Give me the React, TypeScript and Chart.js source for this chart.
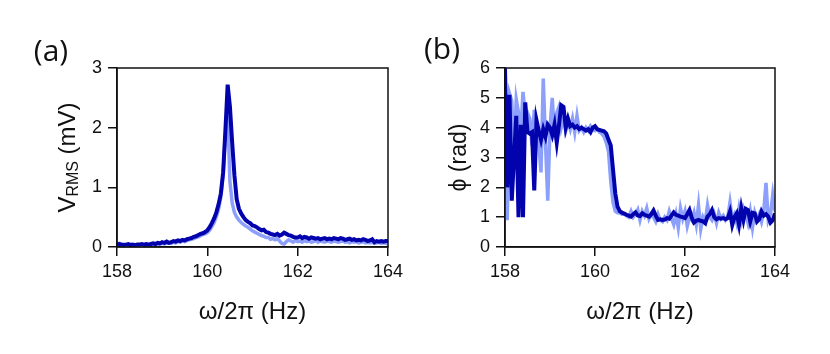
import React, { useEffect, useRef } from "react";
import { Chart, registerables } from "chart.js";

Chart.register(...registerables);

// Frequency grid (Hz)
const FREQ = [
  158.00, 158.05, 158.10, 158.15, 158.20, 158.25, 158.30, 158.35, 158.40, 158.45,
  158.50, 158.55, 158.60, 158.65, 158.70, 158.75, 158.80, 158.85, 158.90, 158.95,
  159.00, 159.05, 159.10, 159.15, 159.20, 159.25, 159.30, 159.35, 159.40, 159.45,
  159.50, 159.55, 159.60, 159.65, 159.70, 159.75, 159.80, 159.85, 159.90, 159.95,
  160.00, 160.05, 160.10, 160.15, 160.20, 160.25, 160.30, 160.35, 160.40, 160.45,
  160.50, 160.55, 160.60, 160.65, 160.70, 160.75, 160.80, 160.85, 160.90, 160.95,
  161.00, 161.05, 161.10, 161.15, 161.20, 161.25, 161.30, 161.35, 161.40, 161.45,
  161.50, 161.55, 161.60, 161.65, 161.70, 161.75, 161.80, 161.85, 161.90, 161.95,
  162.00, 162.05, 162.10, 162.15, 162.20, 162.25, 162.30, 162.35, 162.40, 162.45,
  162.50, 162.55, 162.60, 162.65, 162.70, 162.75, 162.80, 162.85, 162.90, 162.95,
  163.00, 163.05, 163.10, 163.15, 163.20, 163.25, 163.30, 163.35, 163.40, 163.45,
  163.50, 163.55, 163.60, 163.65, 163.70, 163.75, 163.80, 163.85, 163.90, 163.95,
  164.00,
];

// Panel (a): V_RMS (mV)
const VRMS_DARK = [
  0.04, 0.05, 0.04, 0.03, 0.04, 0.05, 0.03, 0.04, 0.03, 0.04,
  0.04, 0.05, 0.04, 0.05, 0.04, 0.05, 0.06, 0.05, 0.07, 0.06,
  0.08, 0.07, 0.09, 0.07, 0.08, 0.10, 0.09, 0.11, 0.10, 0.12,
  0.11, 0.13, 0.14, 0.15, 0.17, 0.18, 0.20, 0.22, 0.23, 0.25,
  0.28, 0.33, 0.40, 0.48, 0.58, 0.72, 0.90, 1.25, 1.95, 2.72,
  2.35, 1.75, 1.20, 0.80, 0.64, 0.56, 0.50, 0.45, 0.42, 0.40,
  0.36, 0.35, 0.33, 0.30, 0.28, 0.29, 0.25, 0.24, 0.22, 0.21,
  0.20, 0.22, 0.19, 0.21, 0.24, 0.22, 0.20, 0.19, 0.17, 0.16,
  0.16, 0.18, 0.15, 0.17, 0.16, 0.14, 0.16, 0.15, 0.14, 0.15,
  0.13, 0.14, 0.15, 0.13, 0.14, 0.13, 0.15, 0.14, 0.13, 0.15,
  0.14, 0.12, 0.13, 0.14, 0.12, 0.13, 0.11, 0.12, 0.11, 0.13,
  0.12, 0.10, 0.11, 0.13, 0.08, 0.10, 0.09, 0.10, 0.09, 0.10,
  0.10,
];
const VRMS_LIGHT = [
  0.03, 0.06, 0.04, 0.05, 0.03, 0.04, 0.05, 0.03, 0.04, 0.03,
  0.04, 0.03, 0.04, 0.04, 0.03, 0.05, 0.04, 0.05, 0.04, 0.05,
  0.06, 0.05, 0.06, 0.07, 0.06, 0.08, 0.07, 0.09, 0.08, 0.10,
  0.09, 0.11, 0.12, 0.13, 0.14, 0.16, 0.17, 0.19, 0.21, 0.22,
  0.24, 0.28, 0.34, 0.41, 0.51, 0.64, 0.84, 1.22, 1.92, 2.30,
  1.10, 0.74, 0.58, 0.50, 0.45, 0.41, 0.38, 0.35, 0.33, 0.30,
  0.27, 0.25, 0.23, 0.21, 0.19, 0.18, 0.16, 0.16, 0.13, 0.14,
  0.12, 0.14, 0.10, 0.06, 0.05, 0.09, 0.12, 0.10, 0.08, 0.11,
  0.09, 0.10, 0.08, 0.11, 0.09, 0.10, 0.08, 0.09, 0.11, 0.08,
  0.10, 0.09, 0.08, 0.10, 0.09, 0.08, 0.10, 0.09, 0.08, 0.09,
  0.10, 0.08, 0.09, 0.07, 0.09, 0.08, 0.09, 0.07, 0.08, 0.09,
  0.07, 0.08, 0.07, 0.08, 0.06, 0.07, 0.08, 0.06, 0.07, 0.06,
  0.05,
];

// Panel (b): phase (rad)
const PHI_DARK = [
  6.00, 2.00, 5.10, 1.55, 3.00, 4.40, 1.00, 4.10, 1.00, 4.85,
  3.85, 3.80, 3.85, 1.90, 4.25, 3.90, 3.60, 3.95, 3.70, 4.10,
  4.00, 3.75, 4.10, 3.50, 4.10, 4.75, 4.70, 4.00, 4.30, 4.05,
  4.10, 4.00, 4.05, 3.95, 4.00, 3.95, 3.90, 3.95, 3.85, 4.00,
  4.05, 3.95, 3.92, 3.90, 3.88, 3.80, 3.60, 3.40, 2.60, 1.80,
  1.35, 1.20, 1.15, 1.12, 1.08, 1.05, 1.02, 1.10, 1.16, 1.06,
  1.04, 1.13, 1.08, 1.05, 1.02, 1.10, 1.22, 1.05, 0.91, 0.93,
  0.91, 0.92, 0.97, 0.95, 1.05, 1.16, 1.08, 1.05, 1.02, 1.00,
  0.97, 1.10, 1.24, 0.98, 0.82, 0.88, 0.91, 0.88, 0.86, 0.80,
  1.02, 1.10, 1.24, 1.00, 0.93, 0.97, 0.95, 0.97, 0.93, 0.97,
  1.19, 0.74, 1.00, 1.13, 0.75, 1.30, 0.91, 1.28, 1.24, 0.86,
  1.15, 1.13, 0.85, 0.93, 1.19, 1.05, 1.10, 1.02, 0.82, 0.90,
  1.13,
];
const PHI_LIGHT = [
  2.70, 0.90, 5.15, 4.90, 3.00, 4.95, 4.50, 3.80, 5.20, 4.40,
  4.50, 4.30, 3.40, 4.60, 4.00, 3.50, 2.50, 5.65, 3.50, 1.55,
  4.00, 5.00, 3.70, 4.50, 4.70, 4.00, 4.30, 3.90, 4.20, 3.95,
  4.30, 3.85, 4.40, 3.90, 4.00, 3.85, 4.00, 3.90, 4.05, 3.95,
  3.90, 3.95, 3.85, 3.80, 3.70, 3.50, 3.20, 2.20, 1.50, 1.20,
  1.15, 1.15, 1.10, 1.10, 1.05, 1.00, 1.20, 1.00, 1.10, 1.25,
  0.90, 1.20, 1.05, 1.30, 0.95, 1.10, 1.00, 0.85, 1.10, 0.90,
  0.85, 1.00, 0.90, 1.20, 0.95, 0.75, 1.10, 0.65, 1.30, 0.95,
  1.20, 0.70, 1.00, 0.90, 1.15, 0.75, 1.40, 0.60, 1.00, 0.85,
  1.40, 1.00, 0.90, 1.10, 0.80, 1.15, 0.95, 1.05, 0.90, 1.00,
  1.50, 0.95, 1.10, 0.80, 1.30, 0.90, 1.30, 1.10, 0.80, 1.20,
  0.65, 1.15, 0.90, 1.10, 0.85, 1.20, 2.15, 0.90, 1.10, 1.75,
  1.20,
];

const X_TICKS = [158, 160, 162, 164];
const Y_TICKS_A = [0, 1, 2, 3];
const Y_TICKS_B = [0, 1, 2, 3, 4, 5, 6];

const DARK = "#0303ae";
const LIGHT = "#8c9ffb";
const AXIS_FONT = "'Liberation Sans', Arial, sans-serif";
const LABEL_FONT = "'Open Sans', 'Noto Sans', sans-serif";

const W = 415;
const H = 354;

function pts(xs: number[], ys: number[]) {
  return xs.map((x, i) => ({ x, y: ys[i] }));
}

type PanelOpts = {
  dark: number[];
  light: number[];
  yMax: number;
  yTicks: number[];
  yWidth: number;
  rightPad: number;
  yTitle: string | null;
  panelLabel: string;
  labelPos: [number, number];
  customYTitle?: boolean;
};

function makeConfig(o: PanelOpts): any {
  const framePlugin = {
    id: "frame",
    afterDraw(chart: any) {
      const { ctx, chartArea } = chart;
      ctx.save();
      ctx.strokeStyle = "#111";
      ctx.lineWidth = 1.5;
      ctx.strokeRect(chartArea.left, chartArea.top, chartArea.right - chartArea.left, chartArea.bottom - chartArea.top);
      // panel label
      ctx.fillStyle = "#111";
      ctx.font = `30px ${LABEL_FONT}`;
      ctx.textAlign = "center";
      ctx.textBaseline = "middle";
      ctx.fillText(o.panelLabel, o.labelPos[0], o.labelPos[1]);
      if (o.customYTitle) {
        const cy = (chartArea.top + chartArea.bottom) / 2;
        const cx = chartArea.left - 49;
        ctx.translate(cx, cy);
        ctx.rotate(-Math.PI / 2);
        ctx.textAlign = "left";
        ctx.textBaseline = "middle";
        const big = `24px ${AXIS_FONT}`;
        const small = `16px ${AXIS_FONT}`;
        ctx.font = big;
        const wV = ctx.measureText("V").width;
        const wRest = ctx.measureText(" (mV)").width;
        ctx.font = small;
        const wSub = ctx.measureText("RMS").width;
        const total = wV + wSub + wRest;
        let x = -total / 2;
        ctx.font = big;
        ctx.fillText("V", x, 0);
        x += wV;
        ctx.font = small;
        ctx.fillText("RMS", x, 6);
        x += wSub;
        ctx.font = big;
        ctx.fillText(" (mV)", x, 0);
      }
      ctx.restore();
    },
  };

  return {
    type: "line",
    data: {
      datasets: [
        {
          data: pts(FREQ, o.dark),
          borderColor: DARK,
          borderWidth: 4,
          pointRadius: 0,
          tension: 0,
          fill: false,
        },
        {
          data: pts(FREQ, o.light),
          borderColor: LIGHT,
          borderWidth: 3.5,
          pointRadius: 0,
          tension: 0,
          fill: false,
        },
      ],
    },
    options: {
      responsive: false,
      animation: false,
      devicePixelRatio: 1,
      layout: { padding: { left: 0, top: 68, right: o.rightPad, bottom: 0 } },
      plugins: { legend: { display: false }, tooltip: { enabled: false } },
      scales: {
        x: {
          type: "linear",
          min: 158,
          max: 164,
          afterBuildTicks: (s: any) => {
            s.ticks = X_TICKS.map((v) => ({ value: v }));
          },
          afterFit: (s: any) => {
            s.height = 107;
          },
          ticks: {
            color: "#111",
            padding: 5,
            font: { size: 18, family: AXIS_FONT },
            maxRotation: 0,
          },
          grid: {
            display: true,
            drawOnChartArea: false,
            drawTicks: true,
            tickLength: 9,
            color: "#111",
            lineWidth: 1.5,
          },
          border: { display: true, color: "#111", width: 1.5 },
          title: {
            display: true,
            text: "ω/2π (Hz)",
            color: "#111",
            font: { size: 24, family: AXIS_FONT },
            padding: { top: 0, bottom: 27 },
          },
        },
        y: {
          type: "linear",
          min: 0,
          max: o.yMax,
          afterBuildTicks: (s: any) => {
            s.ticks = o.yTicks.map((v) => ({ value: v }));
          },
          afterFit: (s: any) => {
            s.width = o.yWidth;
          },
          ticks: {
            color: "#111",
            padding: 6,
            font: { size: 18, family: AXIS_FONT },
          },
          grid: {
            display: true,
            drawOnChartArea: false,
            drawTicks: true,
            tickLength: 9,
            color: "#111",
            lineWidth: 1.5,
          },
          border: { display: true, color: "#111", width: 1.5 },
          title: {
            display: !!o.yTitle,
            text: o.yTitle || "",
            color: "#111",
            font: { size: 23, family: AXIS_FONT },
            padding: { top: 31, bottom: 0 },
          },
        },
      },
    },
    plugins: [framePlugin],
  };
}

function Panel(props: { opts: PanelOpts; left: number }) {
  const ref = useRef<HTMLCanvasElement | null>(null);
  useEffect(() => {
    if (!ref.current) return;
    const chart = new Chart(ref.current, makeConfig(props.opts));
    return () => chart.destroy();
  }, []);
  return (
    <div style={{ position: "absolute", left: props.left, top: 0, width: W, height: H }}>
      <canvas ref={ref} width={W} height={H} style={{ width: W, height: H, display: "block" }} />
    </div>
  );
}

export default function App() {
  const a: PanelOpts = {
    dark: VRMS_DARK,
    light: VRMS_LIGHT,
    yMax: 3,
    yTicks: Y_TICKS_A,
    yWidth: 117,
    rightPad: 27,
    yTitle: null,
    panelLabel: "(a)",
    labelPos: [51, 52],
    customYTitle: true,
  };
  const b: PanelOpts = {
    dark: PHI_DARK,
    light: PHI_LIGHT,
    yMax: 6,
    yTicks: Y_TICKS_B,
    yWidth: 90,
    rightPad: 55,
    yTitle: "ϕ (rad)",
    panelLabel: "(b)",
    labelPos: [27, 50],
  };
  return (
    <div style={{ position: "fixed", left: 0, top: 0, width: 830, height: 354, background: "#fff" }}>
      <Panel opts={a} left={0} />
      <Panel opts={b} left={415} />
    </div>
  );
}
